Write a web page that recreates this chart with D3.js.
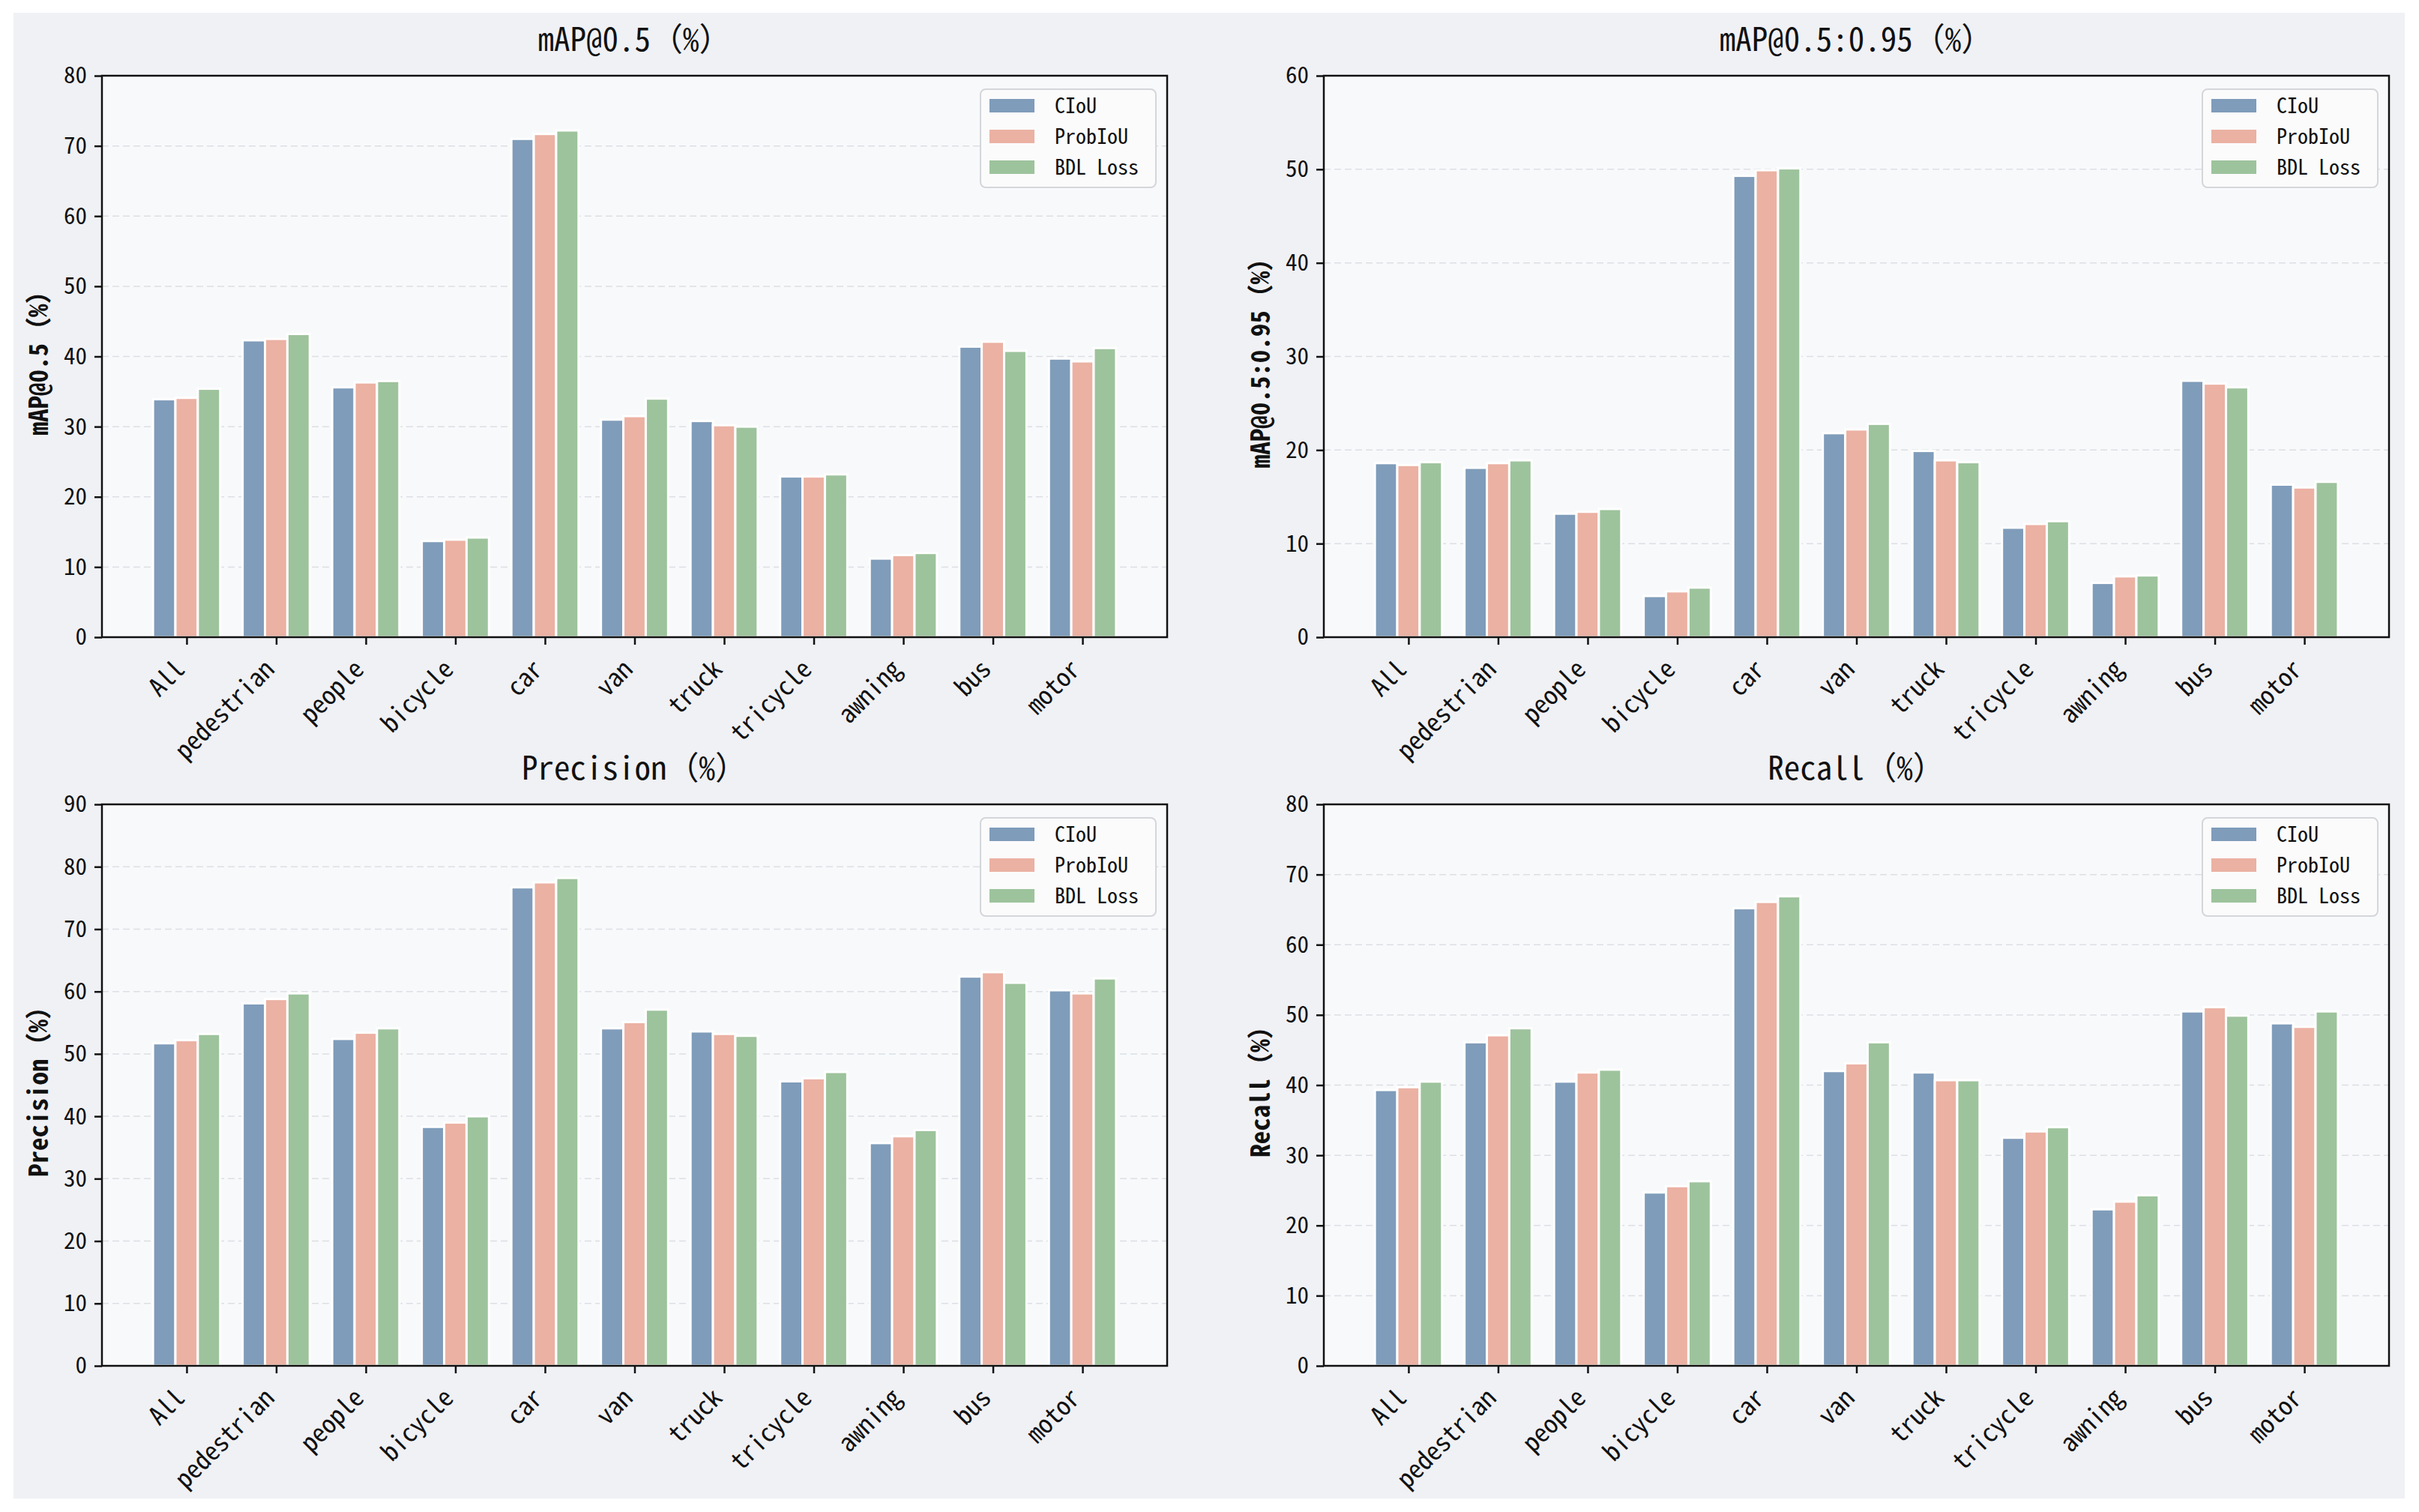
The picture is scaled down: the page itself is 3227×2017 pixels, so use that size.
<!DOCTYPE html>
<html lang="en">
<head>
<meta charset="UTF-8">
<title>Loss comparison</title>
<script src="https://d3js.org/d3.v7.min.js"></script>
<style>
    body { margin: 0; background: #ffffff; }
    text { font-family: "Noto Sans Mono CJK SC", "DejaVu Sans Mono", monospace; fill: #111; }
</style>
</head>
<body>
<div id="chart"></div>
<script>
// categories and series
const categories = ["All", "pedestrian", "people", "bicycle", "car", "van", "truck", "tricycle", "awning", "bus", "motor"];
const seriesNames = ["CIoU", "ProbIoU", "BDL Loss"];
const seriesColors = ["#7f9cba", "#ebb1a3", "#9dc39c"];

// mAP@0.5
const map50CIoU    = [33.9, 42.3, 35.6, 13.7, 71.0, 31.0, 30.8, 22.9, 11.2, 41.4, 39.7];
const map50ProbIoU = [34.1, 42.5, 36.3, 13.9, 71.7, 31.5, 30.2, 22.9, 11.7, 42.1, 39.3];
const map50BDL     = [35.4, 43.2, 36.5, 14.2, 72.2, 34.0, 30.0, 23.2, 12.0, 40.8, 41.2];

// mAP@0.5:0.95
const map5095CIoU    = [18.6, 18.1, 13.2, 4.4, 49.3, 21.8, 19.9, 11.7, 5.8, 27.4, 16.3];
const map5095ProbIoU = [18.4, 18.6, 13.4, 4.9, 49.9, 22.2, 18.9, 12.1, 6.5, 27.1, 16.0];
const map5095BDL     = [18.7, 18.9, 13.7, 5.3, 50.1, 22.8, 18.7, 12.4, 6.6, 26.7, 16.6];

// Precision
const precisionCIoU    = [51.7, 58.1, 52.4, 38.3, 76.7, 54.1, 53.6, 45.6, 35.7, 62.4, 60.2];
const precisionProbIoU = [52.2, 58.8, 53.4, 39.0, 77.5, 55.1, 53.2, 46.1, 36.8, 63.1, 59.7];
const precisionBDL     = [53.2, 59.7, 54.1, 40.0, 78.2, 57.1, 52.9, 47.1, 37.8, 61.4, 62.1];

// Recall
const recallCIoU    = [39.3, 46.1, 40.5, 24.7, 65.2, 42.0, 41.8, 32.5, 22.3, 50.5, 48.8];
const recallProbIoU = [39.7, 47.1, 41.8, 25.6, 66.1, 43.1, 40.7, 33.4, 23.4, 51.1, 48.3];
const recallBDL     = [40.5, 48.1, 42.2, 26.3, 66.9, 46.1, 40.7, 34.0, 24.3, 49.9, 50.5];

// y axis ticks per panel
const map50Ticks     = [0, 10, 20, 30, 40, 50, 60, 70, 80];
const map5095Ticks   = [0, 10, 20, 30, 40, 50, 60];
const precisionTicks = [0, 10, 20, 30, 40, 50, 60, 70, 80, 90];
const recallTicks    = [0, 10, 20, 30, 40, 50, 60, 70, 80];

const panels = [
    { title: "mAP@0.5（%）", series: [map50CIoU, map50ProbIoU, map50BDL], ticks: map50Ticks, col: 0, row: 0 },
    { title: "mAP@0.5:0.95（%）", series: [map5095CIoU, map5095ProbIoU, map5095BDL], ticks: map5095Ticks, col: 1, row: 0 },
    { title: "Precision（%）", series: [precisionCIoU, precisionProbIoU, precisionBDL], ticks: precisionTicks, col: 0, row: 1 },
    { title: "Recall（%）", series: [recallCIoU, recallProbIoU, recallBDL], ticks: recallTicks, col: 1, row: 1 }
];

const width = 3227;
const height = 2017;
const colX = [136, 1766];
const rowY = [101, 1073];
const plotW = 1421;
const plotH = 749;
const barW = 0.25;

const svg = d3.select("#chart")
    .append("svg")
    .attr("width", width)
    .attr("height", height);

// figure background
svg.append("rect")
    .attr("x", 18).attr("y", 17)
    .attr("width", 3190).attr("height", 1982)
    .attr("fill", "#f0f1f5");

panels.forEach(p => {
    const g = svg.append("g")
        .attr("transform", `translate(${colX[p.col]},${rowY[p.row]})`);

    const x = d3.scaleLinear().domain([-0.945, categories.length - 1 + 0.945]).range([0, plotW]);
    const y = d3.scaleLinear().domain([0, d3.max(p.ticks)]).range([plotH, 0]);

    g.append("rect")
        .attr("width", plotW).attr("height", plotH)
        .attr("fill", "#f8f9fb");

    // dashed grid
    g.selectAll(".grid")
        .data(p.ticks.filter(t => t > 0 && t < d3.max(p.ticks)))
        .enter()
        .append("line")
        .attr("x1", 0).attr("x2", plotW)
        .attr("y1", d => y(d)).attr("y2", d => y(d))
        .attr("stroke", "#dcdfe4")
        .attr("stroke-width", 1.5)
        .attr("stroke-dasharray", "9,5");

    // bars
    p.series.forEach((vals, j) => {
        g.selectAll(".bar" + j)
            .data(vals)
            .enter()
            .append("rect")
            .attr("x", (d, i) => x(i + (j - 1) * barW - barW / 2))
            .attr("y", d => y(d))
            .attr("width", x(barW) - x(0))
            .attr("height", d => y(0) - y(d))
            .attr("fill", seriesColors[j])
            .attr("stroke", "#ffffff")
            .attr("stroke-width", 3);
    });

    // axes
    const xAxis = g.append("g")
        .attr("transform", `translate(0,${plotH})`)
        .call(d3.axisBottom(x)
            .tickValues(d3.range(categories.length))
            .tickFormat(i => categories[i])
            .tickSize(10)
            .tickSizeOuter(0));
    xAxis.select(".domain").remove();
    xAxis.selectAll(".tick line").attr("stroke", "#111").attr("stroke-width", 2.5);
    xAxis.selectAll(".tick text")
        .attr("x", 0).attr("y", 0).attr("dy", 0)
        .attr("text-anchor", "end")
        .attr("transform", "translate(-1,45) rotate(-45)")
        .style("font-size", "34px");

    const yAxis = g.append("g")
        .call(d3.axisLeft(y)
            .tickValues(p.ticks)
            .tickSize(10)
            .tickPadding(10)
            .tickSizeOuter(0));
    yAxis.select(".domain").remove();
    yAxis.selectAll(".tick line").attr("stroke", "#111").attr("stroke-width", 2.5);
    yAxis.selectAll(".tick text").style("font-size", "31px");

    // spines
    g.append("rect")
        .attr("width", plotW).attr("height", plotH)
        .attr("fill", "none")
        .attr("stroke", "#111")
        .attr("stroke-width", 2.5);

    // title
    g.append("text")
        .attr("x", plotW / 2).attr("y", -33)
        .attr("text-anchor", "middle")
        .style("font-size", "43px")
        .text(p.title);

    // y label
    g.append("text")
        .attr("transform", `translate(-72,${plotH / 2}) rotate(-90)`)
        .attr("text-anchor", "middle")
        .style("font-size", "35px")
        .style("font-weight", "bold")
        .text(p.title);

    // legend
    const lg = g.append("g").attr("transform", `translate(${plotW - 249},18)`);
    lg.append("rect")
        .attr("width", 234).attr("height", 131)
        .attr("rx", 7)
        .attr("fill", "#fbfbfc")
        .attr("stroke", "#d4d6da")
        .attr("stroke-width", 2);
    seriesNames.forEach((name, j) => {
        lg.append("rect")
            .attr("x", 12).attr("y", 13 + j * 41)
            .attr("width", 60).attr("height", 18)
            .attr("fill", seriesColors[j]);
        lg.append("text")
            .attr("x", 99).attr("y", 22 + j * 41)
            .attr("dy", "0.35em")
            .style("font-size", "28px")
            .text(name);
    });
});
</script>
</body>
</html>
